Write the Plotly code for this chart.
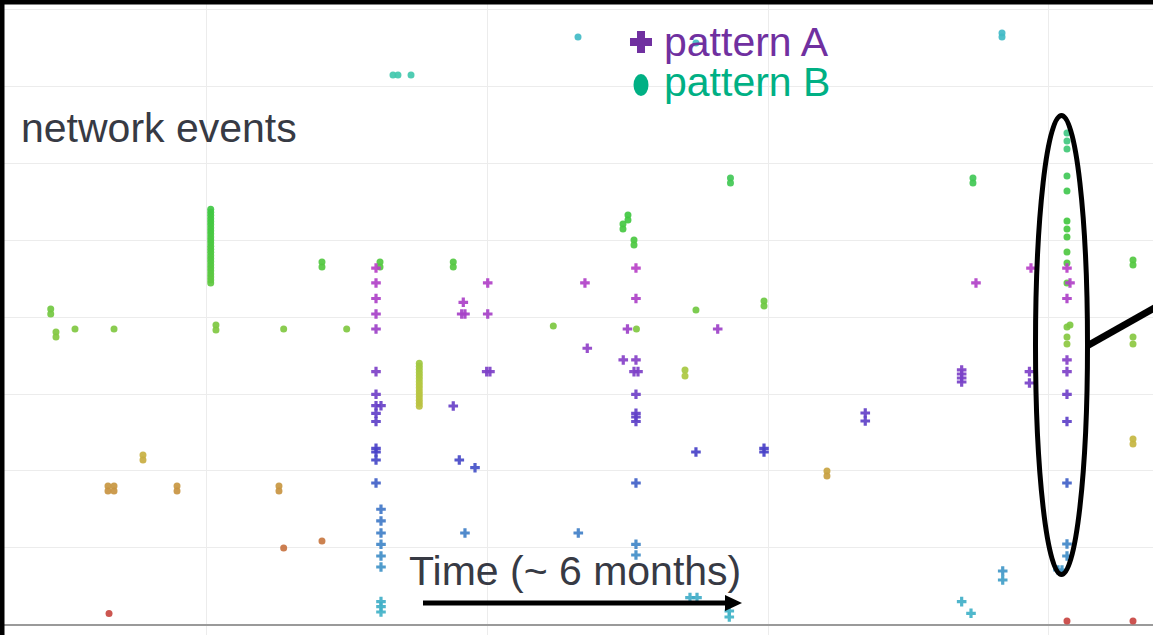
import colorsys
import plotly.graph_objects as go

# ---------------- data ----------------
# x: time in days, y: network event id
b_days = [
    17.73, 17.73, 18.48, 18.48, 21.19, 26.75,
    40.53, 40.53, 40.53, 40.53, 40.53, 40.53, 40.53, 40.53, 40.53, 40.53, 40.53, 40.53, 40.53,
    40.53, 40.53, 40.53, 40.53, 40.53, 40.53, 40.53, 40.53, 40.53, 40.53, 40.53, 40.53,
    41.28, 41.28, 50.93, 59.91,
    56.39, 56.39, 64.66, 64.66, 75.10, 75.10,
    66.51, 67.22, 69.08, 92.88,
    30.88, 30.88, 25.89, 25.89, 26.75, 26.75, 35.73, 35.73, 50.26, 50.26,
    50.93, 56.39, 26.04,
    70.26, 70.26, 70.26, 70.26, 70.26, 70.26, 70.26, 70.26, 70.26, 70.26, 70.26, 70.26, 70.26, 70.26, 70.26,
    89.36, 100.00, 100.00, 99.29, 99.29, 100.86, 100.86, 101.21,
    109.69, 119.39, 119.39, 108.13, 108.13, 128.36, 128.36,
    109.69, 114.61, 114.61, 149.17, 149.17, 153.31, 153.31,
    162.57, 162.57, 162.57, 162.57, 162.57, 162.57, 162.57, 162.57, 162.57, 162.57, 162.57,
    162.57, 162.57, 162.57, 163.00,
    162.57, 171.98, 171.98, 171.98, 171.98, 171.98, 171.98, 171.98,
]
b_events = [
    41.04, 40.39, 38.05, 37.40, 38.44, 38.44,
    54.0, 53.6, 53.2, 52.8, 52.4, 52.0, 51.6, 51.2, 50.8, 50.4, 50.0, 49.6, 49.2,
    48.8, 48.4, 48.0, 47.6, 47.2, 46.8, 46.4, 46.0, 45.6, 45.2, 44.8, 44.4,
    38.96, 38.31, 38.44, 38.44,
    47.14, 46.49, 47.14, 46.49, 47.14, 46.49,
    71.43, 71.43, 71.43, 76.36,
    22.08, 21.43, 18.05, 17.40, 18.05, 17.40, 18.05, 17.40, 18.05, 17.40,
    10.00, 10.91, 1.49,
    34.0, 33.6, 33.2, 32.8, 32.4, 32.0, 31.6, 31.2, 30.8, 30.4, 30.0, 29.6, 29.2, 28.8, 28.4,
    38.83, 53.25, 52.60, 52.08, 51.43, 50.00, 49.35, 38.44,
    40.91, 42.08, 41.43, 33.12, 32.34, 20.00, 19.35,
    75.58, 58.05, 57.40, 58.05, 57.40, 76.88, 76.36,
    63.90, 62.86, 61.82, 58.31, 56.36, 52.47, 51.43, 50.39, 48.44, 47.01, 44.42,
    38.70, 37.40, 36.49, 38.96,
    0.52, 0.52, 47.40, 46.75, 37.40, 36.49, 24.16, 23.51,
]

a_days = [
    64.09, 64.09, 64.09, 64.09, 64.09, 64.09, 64.09, 64.09, 64.09, 64.09, 64.09, 64.09, 64.09, 64.09,
    64.80,
    64.80, 64.80, 64.80, 64.80, 64.80, 64.80, 64.80, 64.80, 64.80,
    75.10, 75.96, 78.20, 76.77, 76.53, 76.30, 76.77, 80.01, 80.01, 79.86, 80.33,
    93.87, 94.20, 92.92, 99.93,
    101.14, 101.14, 101.14, 101.14, 101.14, 101.14, 101.14, 101.14, 101.14, 101.14,
    99.33, 100.86, 101.43,
    112.79, 109.69, 119.39, 119.39, 133.82, 133.82,
    108.84, 109.84, 114.44, 114.44,
    149.60, 157.44, 147.56, 147.56, 147.56, 147.56, 157.22, 157.22,
    162.57, 162.57, 162.57, 162.57, 162.57, 162.57, 162.57, 162.57, 162.57, 163.00,
    161.29, 161.86, 153.41, 153.41, 147.56, 148.89,
]
a_events = [
    46.36, 44.42, 42.40, 40.39, 38.44, 32.90, 29.96, 28.48, 27.49, 26.43, 22.95, 22.47, 21.43, 18.44,
    28.48,
    15.03, 13.51, 11.95, 10.48, 8.96, 7.53, 3.03, 2.38, 1.69,
    28.44, 21.43, 20.43, 11.95, 41.91, 40.39, 40.39, 44.42, 40.39, 32.90, 32.90,
    44.42, 35.94, 11.95, 38.44,
    46.36, 42.40, 34.42, 29.96, 27.49, 27.01, 26.43, 18.44, 10.48, 9.09,
    34.42, 32.90, 32.90,
    38.44, 22.47, 22.95, 22.47, 27.53, 26.49,
    3.55, 3.55, 1.82, 1.04,
    44.42, 46.36, 33.12, 32.60, 32.08, 31.56, 32.90, 31.43,
    46.36, 42.40, 34.42, 32.90, 29.96, 26.43, 18.44, 10.52, 8.96, 44.42,
    7.14, 7.14, 7.01, 5.84, 3.03, 1.52,
]

series_names = ["pattern A", "pattern B"]

# ---------------- styling ----------------
W, H = 1153, 635


def hsl(h, s=0.55, l=0.52):
    r, g, b = colorsys.hls_to_rgb(h / 360.0, l, s)
    return "#%02x%02x%02x" % (round(r * 255), round(g * 255), round(b * 255))


B_MAX = 80.0
b_stops = [(0, 0), (10, 22), (18, 38), (22, 50), (31, 68), (37.5, 90), (41.5, 100),
           (47, 112), (53, 120), (58.4, 130), (63, 148), (71.4, 168), (76.8, 186), (80, 190)]
b_scale = [[v / B_MAX, hsl(h)] for v, h in b_stops]

A_MAX = 50.0
a_stops = [(0, 188), (3, 191), (7.5, 203), (9, 206), (12, 212), (15, 216), (18.4, 226),
           (22.5, 243), (27, 254), (30, 261), (33, 267), (36, 275), (38.4, 281), (41, 286),
           (44.4, 290), (46.4, 293), (50, 295)]
a_scale = [[v / A_MAX, hsl(h)] for v, h in a_stops]

fig = go.Figure()
fig.add_trace(go.Scatter(
    x=b_days, y=b_events, mode="markers", name=series_names[1], showlegend=False,
    marker=dict(symbol="circle", size=7, color=b_events, colorscale=b_scale,
                cmin=0, cmax=B_MAX, opacity=0.92, line=dict(width=0)),
))
fig.add_trace(go.Scatter(
    x=a_days, y=a_events, mode="markers", name=series_names[0], showlegend=False,
    marker=dict(symbol="cross", size=8, color=a_events, colorscale=a_scale,
                cmin=0, cmax=A_MAX, opacity=0.92, line=dict(width=0)),
))


def px(x):
    return x / W


def py(y):
    return 1 - y / H


def poly(points):
    return "M " + " L ".join(f"{px(a):.5f},{py(b):.5f}" for a, b in points) + " Z"


shapes = [
    # frame edges of the crop
    dict(type="rect", xref="paper", yref="paper", x0=0, x1=1, y0=py(4.5), y1=1,
         fillcolor="black", line=dict(width=0)),
    dict(type="rect", xref="paper", yref="paper", x0=0, x1=px(4.5), y0=0, y1=1,
         fillcolor="black", line=dict(width=0)),
    # highlight ellipse + callout line
    dict(type="circle", xref="paper", yref="paper", x0=px(1035.5), x1=px(1087.5),
         y0=py(574.5), y1=py(115.5), line=dict(color="black", width=5)),
    dict(type="line", xref="paper", yref="paper", x0=px(1087), y0=py(346), x1=px(1165), y1=py(302),
         line=dict(color="black", width=7)),
    # time arrow
    dict(type="line", xref="paper", yref="paper", x0=px(423), y0=py(603), x1=px(728), y1=py(603),
         line=dict(color="black", width=5)),
    dict(type="path", xref="paper", yref="paper",
         path=poly([(725, 595), (742, 603), (725, 611)]),
         fillcolor="black", line=dict(width=0)),
    # legend glyphs
    dict(type="path", xref="paper", yref="paper",
         path=poly([(637, 31), (645, 31), (645, 38), (652, 38), (652, 46), (645, 46), (645, 53),
                    (637, 53), (637, 46), (630, 46), (630, 38), (637, 38)]),
         fillcolor="#7030a0", line=dict(width=0)),
    dict(type="circle", xref="paper", yref="paper", x0=px(633.5), x1=px(648.5),
         y0=py(96), y1=py(74), fillcolor="#00b084", line=dict(width=0)),
]

FONT = "Liberation Sans, Arial, Helvetica, sans-serif"
TXT = "#373a44"
annotations = [
    dict(text="network events", x=px(19), y=py(128), xref="paper", yref="paper",
         xanchor="left", yanchor="middle", showarrow=False, font=dict(family=FONT, size=41, color=TXT)),
    dict(text="Time (~ 6 months)", x=px(407), y=py(571), xref="paper", yref="paper",
         xanchor="left", yanchor="middle", showarrow=False, font=dict(family=FONT, size=41, color=TXT)),
    dict(text=series_names[0], x=px(662), y=py(42), xref="paper", yref="paper",
         xanchor="left", yanchor="middle", showarrow=False, font=dict(family=FONT, size=41, color="#7030a0")),
    dict(text=series_names[1], x=px(662), y=py(82), xref="paper", yref="paper",
         xanchor="left", yanchor="middle", showarrow=False, font=dict(family=FONT, size=41, color="#00b084")),
]

fig.update_layout(
    width=W, height=H, margin=dict(l=0, r=0, t=0, b=0),
    paper_bgcolor="white", plot_bgcolor="white",
    showlegend=False, shapes=shapes, annotations=annotations,
    xaxis=dict(range=[10.5, 174.83], tick0=0, dtick=40, showticklabels=False, ticks="",
               showgrid=True, gridcolor="#ececec", gridwidth=1, zeroline=False, showline=False),
    yaxis=dict(range=[-1.30, 81.17], tick0=0, dtick=10, showticklabels=False, ticks="",
               showgrid=True, gridcolor="#ececec", gridwidth=1,
               zeroline=True, zerolinecolor="#9a9a9a", zerolinewidth=1.5, showline=False),
)

post = ("document.body.style.margin='0';document.body.style.padding='0';"
        "document.body.style.overflow='hidden';"
        "document.documentElement.style.overflow='hidden';")

fig.write_html("out.html", config={"displayModeBar": False}, post_script=post)
